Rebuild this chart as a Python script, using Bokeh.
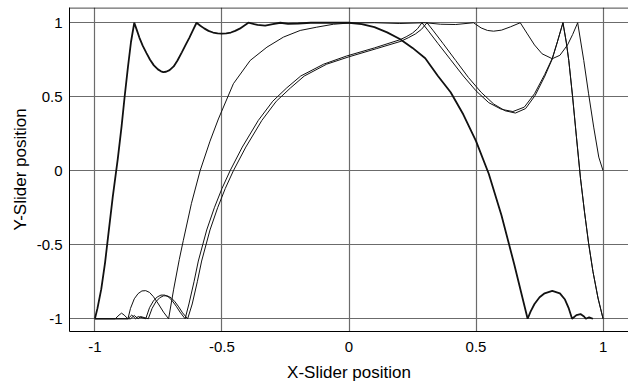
from bokeh.plotting import figure
from bokeh.models import Range1d, FixedTicker, Span
from bokeh.embed import file_html
from bokeh.resources import INLINE

# ---- tick values / labels ----
x_ticks = [-1.0, -0.5, 0.0, 0.5, 1.0]
x_tick_labels = ["-1", "-0.5", "0", "0.5", "1"]
y_ticks = [-1.0, -0.5, 0.0, 0.5, 1.0]
y_tick_labels = ["-1", "-0.5", "0", "0.5", "1"]

# ---- curve A (dark, thick) ----
a_x = [-1.0, -0.99, -0.975, -0.96, -0.945, -0.93, -0.91, -0.895, -0.883, -0.87, -0.858, -0.845,
       -0.835, -0.825, -0.812, -0.797, -0.783, -0.768, -0.752, -0.74, -0.731, -0.72, -0.706, -0.69,
       -0.675, -0.658, -0.643, -0.628, -0.614, -0.6,
       -0.585, -0.57, -0.553, -0.535, -0.517, -0.5, -0.483, -0.465, -0.448, -0.43, -0.413, -0.396,
       -0.36, -0.33, -0.3, -0.27, -0.24, -0.2, -0.15, -0.05, 0.0,
       0.05, 0.1, 0.15, 0.2, 0.25, 0.3, 0.35, 0.4, 0.45, 0.5, 0.55, 0.6, 0.65, 0.703,
       0.715, 0.73, 0.75, 0.77, 0.8, 0.83, 0.85, 0.865, 0.878, 0.895, 0.911, 0.925, 0.932, 0.945, 0.96]
a_y = [-1.0, -0.93, -0.8, -0.62, -0.4, -0.18, 0.08, 0.3, 0.5, 0.7, 0.87, 1.0,
       0.95, 0.9, 0.845, 0.795, 0.75, 0.712, 0.685, 0.672, 0.667, 0.669, 0.68, 0.705,
       0.745, 0.8, 0.85, 0.9, 0.95, 1.0,
       0.98, 0.962, 0.945, 0.934, 0.928, 0.926, 0.928, 0.934, 0.945, 0.96, 0.98, 1.0,
       0.985, 0.98, 0.99, 1.0, 0.993, 0.995, 1.0, 1.0, 1.0,
       0.99, 0.97, 0.935, 0.89, 0.83, 0.76, 0.64, 0.53, 0.38, 0.2, -0.02, -0.3, -0.63, -1.0,
       -0.95, -0.9, -0.855, -0.828, -0.812, -0.828, -0.87, -0.93, -1.0, -0.975, -0.968, -0.985, -1.0, -0.99, -1.0]

# ---- curve B1 (thin, first of a pair) ----
b1_x = [-1.0, -0.87, -0.855, -0.84, -0.83, -0.80, -0.785, -0.77, -0.755, -0.74, -0.725, -0.71, -0.695,
        -0.68, -0.665, -0.645,
        -0.63, -0.61, -0.593, -0.56, -0.53, -0.5, -0.468, -0.42, -0.357, -0.3, -0.245, -0.19, -0.1,
        -0.01, 0.1, 0.2, 0.225, 0.25, 0.27, 0.287,
        0.31, 0.35, 0.4, 0.45, 0.5, 0.55, 0.6, 0.645, 0.69, 0.73, 0.77, 0.8, 0.82, 0.842,
        0.855, 0.865, 0.88, 0.895, 0.911, 0.927, 0.943, 0.96, 0.98, 1.0]
b1_y = [-1.0, -1.0, -0.975, -1.0, -0.985, -1.0, -0.925, -0.88, -0.853, -0.84, -0.84, -0.853, -0.88,
        -0.915, -0.955, -1.0,
        -0.9, -0.75, -0.61, -0.4, -0.25, -0.12, 0.0, 0.16, 0.34, 0.47, 0.56, 0.64, 0.72,
        0.775, 0.83, 0.885, 0.905, 0.93, 0.96, 1.0,
        0.95, 0.86, 0.75, 0.64, 0.54, 0.46, 0.415, 0.4, 0.43, 0.52, 0.65, 0.76, 0.87, 1.0,
        0.87, 0.745, 0.5, 0.23, -0.05, -0.28, -0.49, -0.68, -0.86, -1.0]

# ---- curve B2 (thin, second of the pair) ----
b2_x = [-1.0, -0.86, -0.845, -0.83, -0.82, -0.79, -0.775, -0.76, -0.745, -0.73, -0.715, -0.7, -0.685,
        -0.67, -0.655, -0.635,
        -0.617, -0.597, -0.58, -0.547, -0.517, -0.487, -0.455, -0.406, -0.343, -0.286, -0.23, -0.176,
        -0.088, 0.0, 0.108, 0.205, 0.235, 0.262, 0.285, 0.307,
        0.33, 0.37, 0.42, 0.47, 0.52, 0.57, 0.615, 0.655, 0.695, 0.733, 0.771, 0.8, 0.82, 0.842,
        0.855, 0.865, 0.88, 0.895, 0.911, 0.927, 0.943, 0.96, 0.98, 1.0]
b2_y = [-1.0, -1.0, -0.978, -1.0, -0.985, -1.0, -0.93, -0.885, -0.858, -0.845, -0.845, -0.858, -0.885,
        -0.92, -0.96, -1.0,
        -0.9, -0.75, -0.61, -0.4, -0.25, -0.12, 0.0, 0.16, 0.34, 0.47, 0.56, 0.64, 0.72,
        0.77, 0.825, 0.875, 0.9, 0.925, 0.955, 1.0,
        0.95, 0.86, 0.745, 0.63, 0.53, 0.45, 0.405, 0.39, 0.42, 0.51, 0.64, 0.755, 0.87, 1.0,
        0.87, 0.745, 0.5, 0.23, -0.05, -0.28, -0.49, -0.68, -0.86, -1.0]

# ---- curve C (thin, single) ----
c_x = [-1.0, -0.92, -0.905, -0.895, -0.885, -0.87, -0.86, -0.845, -0.83, -0.815, -0.80, -0.785,
       -0.77, -0.75, -0.73, -0.71,
       -0.69, -0.668, -0.652, -0.62, -0.586, -0.547, -0.514, -0.455, -0.389, -0.323, -0.258, -0.192,
       -0.127, -0.061, 0.0, 0.1, 0.2, 0.3, 0.36, 0.42, 0.49,
       0.52, 0.545, 0.569, 0.6, 0.635, 0.674,
       0.7, 0.73, 0.76, 0.8, 0.83, 0.86, 0.88, 0.9,
       0.924, 0.943, 0.963, 0.983, 1.0]
c_y = [-1.0, -1.0, -0.975, -0.962, -0.975, -1.0, -0.93, -0.865, -0.83, -0.812, -0.81, -0.822,
       -0.85, -0.9, -0.955, -1.0,
       -0.8, -0.6, -0.47, -0.22, 0.0, 0.2, 0.35, 0.588, 0.745, 0.835, 0.903, 0.948,
       0.97, 0.99, 0.998, 1.0, 0.995, 1.0, 0.99, 0.988, 1.0,
       0.965, 0.948, 0.943, 0.95, 0.972, 1.0,
       0.93, 0.85, 0.79, 0.757, 0.78, 0.85, 0.92, 1.0,
       0.745, 0.52, 0.295, 0.092, 0.0]

FONT = "Liberation Sans"

p = figure(width=628, height=389, output_backend="svg", toolbar_location=None,
           x_range=Range1d(-1.1, 1.1), y_range=Range1d(-1.086, 1.103),
           min_border_left=69, min_border_right=0, min_border_top=7, min_border_bottom=58)
p.outline_line_color = None
p.background_fill_color = "white"
p.border_fill_color = "white"

p.xaxis.ticker = FixedTicker(ticks=x_ticks)
p.yaxis.ticker = FixedTicker(ticks=y_ticks)
p.xaxis.major_label_overrides = dict(zip(x_ticks, x_tick_labels))
p.yaxis.major_label_overrides = dict(zip(y_ticks, y_tick_labels))
p.xgrid.ticker = FixedTicker(ticks=x_ticks)
p.ygrid.ticker = FixedTicker(ticks=y_ticks)
for g in (p.xgrid, p.ygrid):
    g.grid_line_color = "#6b6b6b"
    g.grid_line_width = 1.2

p.xaxis.axis_label = "X-Slider position"
p.yaxis.axis_label = "Y-Slider position"
for ax in (p.xaxis, p.yaxis):
    ax.axis_line_color = "black"
    ax.axis_line_width = 1
    ax.major_tick_line_color = None
    ax.minor_tick_line_color = None
    ax.major_tick_out = 0
    ax.major_tick_in = 0
    ax.major_label_text_font = FONT
    ax.major_label_text_font_size = "15px"
    ax.major_label_text_color = "black"
    ax.axis_label_text_font = FONT
    ax.axis_label_text_font_size = "17px"
    ax.axis_label_text_font_style = "normal"
    ax.axis_label_text_color = "black"
p.xaxis.major_label_standoff = 10
p.xaxis.axis_label_standoff = 8
p.yaxis.major_label_standoff = 7
p.yaxis.axis_label_standoff = 4

p.add_layout(Span(location=1.1, dimension="width", line_color="black", line_width=1))

p.line(a_x, a_y, line_color="#111111", line_width=1.8)
p.line(b1_x, b1_y, line_color="#111111", line_width=1)
p.line(b2_x, b2_y, line_color="#111111", line_width=1)
p.line(c_x, c_y, line_color="#111111", line_width=1)

open("out.html", "w").write(file_html(p, INLINE))
